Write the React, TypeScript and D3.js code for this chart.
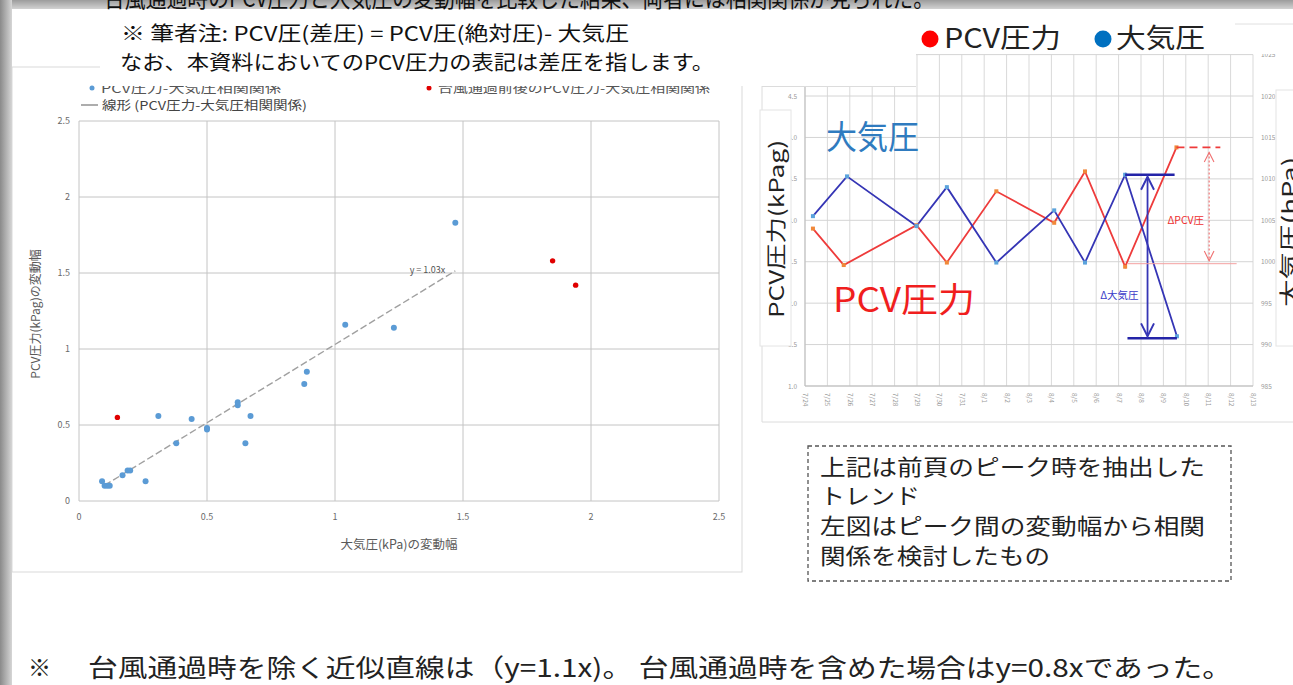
import React from "react";
import * as d3 from "d3";

const FONT = "'Noto Sans CJK JP', 'Noto Sans', sans-serif";

// ---------- Left: scatter (variation widths) ----------
const corrAtm = [0.09, 0.1, 0.11, 0.12, 0.17, 0.19, 0.2, 0.26, 0.31, 0.38, 0.44, 0.5, 0.5, 0.62, 0.62, 0.65, 0.67, 0.88, 0.89, 1.04, 1.23, 1.47];
const corrPcv = [0.13, 0.1, 0.1, 0.1, 0.17, 0.2, 0.2, 0.13, 0.56, 0.38, 0.54, 0.48, 0.47, 0.63, 0.65, 0.38, 0.56, 0.77, 0.85, 1.16, 1.14, 1.83];
const typhoonAtm = [0.15, 1.85, 1.94];
const typhoonPcv = [0.55, 1.58, 1.42];
const trendSlope = 1.03;
const trendRange = [0.1, 1.47];
const trendLabel = "y = 1.03x";
const scatterTicks = [0, 0.5, 1, 1.5, 2, 2.5];
const scatterTickLabels = ["0", "0.5", "1", "1.5", "2", "2.5"];

// ---------- Right: peak trend ----------
const pcvTimes = ["2014-07-24T08:30", "2014-07-25T17:30", "2014-07-28T23:30", "2014-07-30T08:00", "2014-08-01T13:00", "2014-08-04T03:00", "2014-08-05T12:00", "2014-08-07T07:00", "2014-08-09T14:00"];
const pcvValues = [2.9, 2.46, 2.94, 2.49, 3.35, 2.97, 3.59, 2.44, 3.88];
const atmTimes = ["2014-07-24T08:30", "2014-07-25T21:00", "2014-07-28T23:30", "2014-07-30T08:00", "2014-08-01T13:00", "2014-08-04T03:00", "2014-08-05T12:00", "2014-08-07T07:00", "2014-08-09T14:30"];
const atmValues = [1005.5, 1010.3, 1004.3, 1009.0, 999.9, 1006.2, 999.9, 1010.5, 991.0];
const trendDomain = ["2014-07-24T00:00", "2014-08-13T00:00"];
const pcvTicks = [1.0, 1.5, 2.0, 2.5, 3.0, 3.5, 4.0, 4.5, 5.0];
const atmTicks = [985, 990, 995, 1000, 1005, 1010, 1015, 1020, 1025];
// annotation anchors (times)
const atmBarTopEnd = "2014-08-09T12:00";
const atmBarBottomStart = "2014-08-07T09:30";
const atmArrowTime = "2014-08-08T07:00";
const pcvDashEnd = "2014-08-11T13:00";
const pcvThinEnd = "2014-08-12T06:30";
const pcvArrowTime = "2014-08-11T01:00";

const parse = d3.timeParse("%Y-%m-%dT%H:%M");
const fmt = d3.timeFormat("%-m/%-d");

export default function App() {
  // scatter scales
  const xS = d3.scaleLinear().domain([0, 2.5]).range([79, 719]);
  const yS = d3.scaleLinear().domain([0, 2.5]).range([501, 121]);

  // trend scales
  const xT = d3.scaleTime().domain(trendDomain.map((s) => parse(s) as Date)).range([805, 1253]);
  const yL = d3.scaleLinear().domain([1, 5]).range([386, 54.6]);
  const yR = d3.scaleLinear().domain([985, 1025]).range([386, 54.6]);
  const days = d3.timeDay.range(xT.domain()[0], d3.timeDay.offset(xT.domain()[1], 1));

  const pcvPts: [number, number][] = pcvTimes.map((t, i) => [xT(parse(t) as Date), yL(pcvValues[i])]);
  const atmPts: [number, number][] = atmTimes.map((t, i) => [xT(parse(t) as Date), yR(atmValues[i])]);
  const line = d3.line<[number, number]>().x((d) => d[0]).y((d) => d[1]);

  const tx = (s: string) => xT(parse(s) as Date);

  const blueA = "#3535b5";
  const redA = "#ee3b3b";

  return (
    <svg width={1293} height={685} style={{ position: "absolute", left: 0, top: 0, background: "#fff" }} fontFamily={FONT}>
      <defs>
        <linearGradient id="gLeft" x1="0" x2="1" y1="0" y2="0">
          <stop offset="0" stopColor="#8a8a8a" />
          <stop offset="1" stopColor="#d6d6d6" />
        </linearGradient>
        <linearGradient id="gTop" x1="0" x2="0" y1="0" y2="1">
          <stop offset="0" stopColor="#9c9c9c" />
          <stop offset="1" stopColor="#d2d2d2" />
        </linearGradient>
        <clipPath id="topClip">
          <rect x={0} y={0} width={1293} height={10} />
        </clipPath>
        <marker id="arrB" viewBox="0 0 10 10" refX="9" refY="5" markerWidth="9" markerHeight="9" orient="auto-start-reverse">
          <path d="M1,1 L9,5 L1,9" fill="none" stroke={blueA} strokeWidth="1.2" />
        </marker>
        <marker id="arrR" viewBox="0 0 10 10" refX="9" refY="5" markerWidth="11" markerHeight="11" orient="auto-start-reverse">
          <path d="M1,1 L9,5 L1,9" fill="none" stroke="#f07070" strokeWidth="0.9" />
        </marker>
      </defs>

      <rect x={0} y={0} width={1293} height={685} fill="#fff" />

      {/* ===== Left scatter panel ===== */}
      <rect x={12} y={67} width={730} height={505} fill="#fff" stroke="#d9d9d9" />
      {scatterTicks.map((t) => (
        <g key={"sg" + t}>
          <line x1={xS(t)} x2={xS(t)} y1={yS(2.5)} y2={yS(0)} stroke="#c4c4c4" strokeWidth={1} />
          <line x1={xS(0)} x2={xS(2.5)} y1={yS(t)} y2={yS(t)} stroke="#c4c4c4" strokeWidth={1} />
        </g>
      ))}
      {scatterTicks.map((t, i) => (
        <text key={"sy" + t} x={xS(0) - 9} y={yS(t) + 3} fontSize={9} fill="#6a6a6a" textAnchor="end">
          {scatterTickLabels[i]}
        </text>
      ))}
      {scatterTicks.map((t, i) => (
        <text key={"sx" + t} x={xS(t)} y={yS(0) + 19} fontSize={9} fill="#6a6a6a" textAnchor="middle">
          {scatterTickLabels[i]}
        </text>
      ))}
      <line
        x1={xS(trendRange[0])}
        y1={yS(trendRange[0] * trendSlope)}
        x2={xS(trendRange[1])}
        y2={yS(trendRange[1] * trendSlope)}
        stroke="#a0a0a0"
        strokeWidth={1.4}
        strokeDasharray="7 3"
      />
      <text x={xS(trendRange[1]) - 10} y={yS(trendRange[1] * trendSlope) + 2} fontSize={9} fill="#555" textAnchor="end">
        {trendLabel}
      </text>
      {corrAtm.map((x, i) => (
        <circle key={"cb" + i} cx={xS(x)} cy={yS(corrPcv[i])} r={3} fill="#5b9bd5" />
      ))}
      {typhoonAtm.map((x, i) => (
        <circle key={"cr" + i} cx={xS(x)} cy={yS(typhoonPcv[i])} r={2.7} fill="#e00000" />
      ))}
      <text transform={`translate(40,${(yS(0) + yS(2.5)) / 2 + 3}) rotate(-90)`} fontSize={12} fill="#595959" textAnchor="middle">
        PCV圧力(kPag)の変動幅
      </text>
      <text x={(xS(0) + xS(2.5)) / 2} y={549} fontSize={12.5} fill="#595959" textAnchor="middle">
        大気圧(kPa)の変動幅
      </text>
      {/* legend */}
      <circle cx={92} cy={88} r={2.5} fill="#5b9bd5" />
      <text x={101} y={93} fontSize={12} fill="#555" textLength={180} lengthAdjust="spacingAndGlyphs">PCV圧力-大気圧相関関係</text>
      <circle cx={429} cy={88} r={2.5} fill="#e00000" />
      <text x={438} y={93} fontSize={12} fill="#555" textLength={272} lengthAdjust="spacingAndGlyphs">台風通過前後のPCV圧力-大気圧相関関係</text>
      <line x1={81} x2={98} y1={105} y2={105} stroke="#8a8a8a" strokeWidth={1.4} />
      <text x={102} y={110} fontSize={12} fill="#444" textLength={205} lengthAdjust="spacingAndGlyphs">線形 (PCV圧力-大気圧相関関係)</text>

      {/* ===== Right trend panel ===== */}
      <line x1={762} x2={762} y1={86} y2={422} stroke="#dcdcdc" />
      <line x1={762} x2={1293} y1={422} y2={422} stroke="#dcdcdc" />
      {days.map((d) => (
        <line key={"vg" + +d} x1={xT(d)} x2={xT(d)} y1={yL(5)} y2={yL(1)} stroke="#d9d9d9" strokeWidth={1} />
      ))}
      {pcvTicks.map((t) => (
        <line key={"hg" + t} x1={xT.range()[0]} x2={xT.range()[1]} y1={yL(t)} y2={yL(t)} stroke="#d4d4d4" strokeWidth={1} />
      ))}
      <line x1={xT.range()[0]} x2={xT.range()[0]} y1={yL(5)} y2={yL(1)} stroke="#bdbdbd" />
      <line x1={xT.range()[0]} x2={xT.range()[1]} y1={yL(1)} y2={yL(1)} stroke="#bdbdbd" />
      {pcvTicks.map((t) => (
        <text key={"yl" + t} x={797} y={yL(t) + 2.5} fontSize={6.5} fill="#999" textAnchor="end">
          {t.toFixed(1)}
        </text>
      ))}
      {atmTicks.map((t) => (
        <text key={"yr" + t} x={1261} y={yR(t) + 2.5} fontSize={6.5} fill="#999">
          {t}
        </text>
      ))}
      {days.map((d) => (
        <text key={"xl" + +d} transform={`translate(${xT(d) - 2},${yL(1) + 7}) rotate(90)`} fontSize={6.5} fill="#999">
          {fmt(d)}
        </text>
      ))}

      {/* series */}
      <path d={line(pcvPts) || ""} fill="none" stroke={redA} strokeWidth={1.8} />
      <path d={line(atmPts) || ""} fill="none" stroke={blueA} strokeWidth={1.8} />
      {pcvPts.map((p, i) => (
        <rect key={"pm" + i} x={p[0] - 2} y={p[1] - 2} width={4} height={4} fill="#f0883a" />
      ))}
      {atmPts.map((p, i) => (
        <rect key={"am" + i} x={p[0] - 2} y={p[1] - 2} width={4} height={4} fill="#5ba3dc" />
      ))}

      {/* annotations: atmosphere */}
      <line x1={atmPts[7][0]} x2={tx(atmBarTopEnd)} y1={atmPts[7][1]} y2={atmPts[7][1]} stroke="#2424a8" strokeWidth={2.5} />
      <line x1={tx(atmBarBottomStart)} x2={atmPts[8][0]} y1={atmPts[8][1] + 2} y2={atmPts[8][1] + 2} stroke="#2424a8" strokeWidth={2.5} />
      <line
        x1={tx(atmArrowTime)}
        x2={tx(atmArrowTime)}
        y1={atmPts[7][1] + 2}
        y2={atmPts[8][1]}
        stroke={blueA}
        strokeWidth={1.8}
        markerStart="url(#arrB)"
        markerEnd="url(#arrB)"
      />
      <text x={tx(atmArrowTime) - 9} y={yL(2.05)} fontSize={10.5} fill="#3a3ac8" textAnchor="end">Δ大気圧</text>

      {/* annotations: PCV */}
      <line x1={pcvPts[8][0]} x2={tx(pcvDashEnd)} y1={pcvPts[8][1]} y2={pcvPts[8][1]} stroke={redA} strokeWidth={1.8} strokeDasharray="8 5" />
      <line x1={tx(atmBarBottomStart)} x2={tx(pcvThinEnd)} y1={pcvPts[7][1] - 3} y2={pcvPts[7][1] - 3} stroke="#f4a0a0" strokeWidth={1} />
      <line
        x1={tx(pcvArrowTime)}
        x2={tx(pcvArrowTime)}
        y1={pcvPts[8][1] + 5}
        y2={pcvPts[7][1] - 6}
        stroke="#f06a6a"
        strokeWidth={1.1}
        strokeDasharray="2 2"
        markerStart="url(#arrR)"
        markerEnd="url(#arrR)"
      />
      <text x={tx(pcvArrowTime) - 5} y={yL(2.95)} fontSize={10.5} fill="#ee3030" textAnchor="end">ΔPCV圧</text>

      {/* big labels */}
      <text x={826} y={149} fontSize={33} fill="#2f7bbf" textLength={93} lengthAdjust="spacingAndGlyphs">大気圧</text>
      <text x={833} y={312} fontSize={34} fill="#f01e1e" textLength={142} lengthAdjust="spacingAndGlyphs">PCV圧力</text>

      {/* axis title boxes */}
      <rect x={760} y={110} width={31} height={236} fill="#fff" stroke="#e4e4e4" />
      <text transform="translate(784,229) rotate(-90)" fontSize={20} fill="#222" textAnchor="middle" textLength={178} lengthAdjust="spacingAndGlyphs">
        PCV圧力(kPag)
      </text>
      <rect x={1276} y={90} width={30} height={256} fill="#fff" stroke="#e4e4e4" />
      <text transform="translate(1297,232) rotate(-90)" fontSize={20} fill="#222" textAnchor="middle" textLength={150} lengthAdjust="spacingAndGlyphs">
        大気圧(hPa)
      </text>

      {/* ===== overlay boxes ===== */}
      <rect x={100} y={9} width={816} height={77} fill="#fff" />
      <line x1={762} x2={916} y1={86.5} y2={86.5} stroke="#dcdcdc" />
      <text x={121} y={41} fontSize={20} fill="#111" textLength={508} lengthAdjust="spacingAndGlyphs">
        ※ 筆者注: PCV圧(差圧) = PCV圧(絶対圧)- 大気圧
      </text>
      <text x={120} y={70} fontSize={20} fill="#111" textLength={594} lengthAdjust="spacingAndGlyphs">
        なお、本資料においてのPCV圧力の表記は差圧を指します。
      </text>

      <rect x={916} y={14} width={377} height={40} fill="#fff" />
      <line x1={1235} x2={1293} y1={24} y2={24} stroke="#e0e0e0" />
      <circle cx={930} cy={39} r={8.5} fill="#ff0000" />
      <text x={944} y={48} fontSize={27} fill="#222" textLength={117} lengthAdjust="spacingAndGlyphs">PCV圧力</text>
      <circle cx={1103} cy={39} r={8.5} fill="#0070c0" />
      <text x={1116} y={48} fontSize={27} fill="#222" textLength={89} lengthAdjust="spacingAndGlyphs">大気圧</text>

      {/* dashed note box */}
      <rect x={808} y={446} width={423} height={135} fill="#fff" stroke="#555" strokeWidth={1.3} strokeDasharray="4 3" />
      <text x={820} y={475} fontSize={22} fill="#222" textLength={385} lengthAdjust="spacingAndGlyphs">上記は前頁のピーク時を抽出した</text>
      <text x={820} y={504} fontSize={22} fill="#222" textLength={100} lengthAdjust="spacingAndGlyphs">トレンド</text>
      <text x={820} y={534} fontSize={22} fill="#222" textLength={385} lengthAdjust="spacingAndGlyphs">左図はピーク間の変動幅から相関</text>
      <text x={820} y={564} fontSize={22} fill="#222" textLength={230} lengthAdjust="spacingAndGlyphs">関係を検討したもの</text>

      {/* bottom note */}
      <text x={28} y={676} fontSize={23} fill="#222">※</text>
      <text x={88} y={677} fontSize={25} fill="#222" textLength={1144} lengthAdjust="spacingAndGlyphs">
        台風通過時を除く近似直線は（y=1.1x)。 台風通過時を含めた場合はy=0.8xであった。
      </text>

      {/* slide frame */}
      <rect x={0} y={0} width={1293} height={9} fill="url(#gTop)" />
      <g clipPath="url(#topClip)">
        <text x={104} y={7} fontSize={24} fill="#111" textLength={830} lengthAdjust="spacingAndGlyphs">
          台風通過時のPCV圧力と大気圧の変動幅を比較した結果、両者には相関関係が見られた。
        </text>
      </g>
      <rect x={0} y={0} width={12} height={685} fill="url(#gLeft)" />
    </svg>
  );
}
